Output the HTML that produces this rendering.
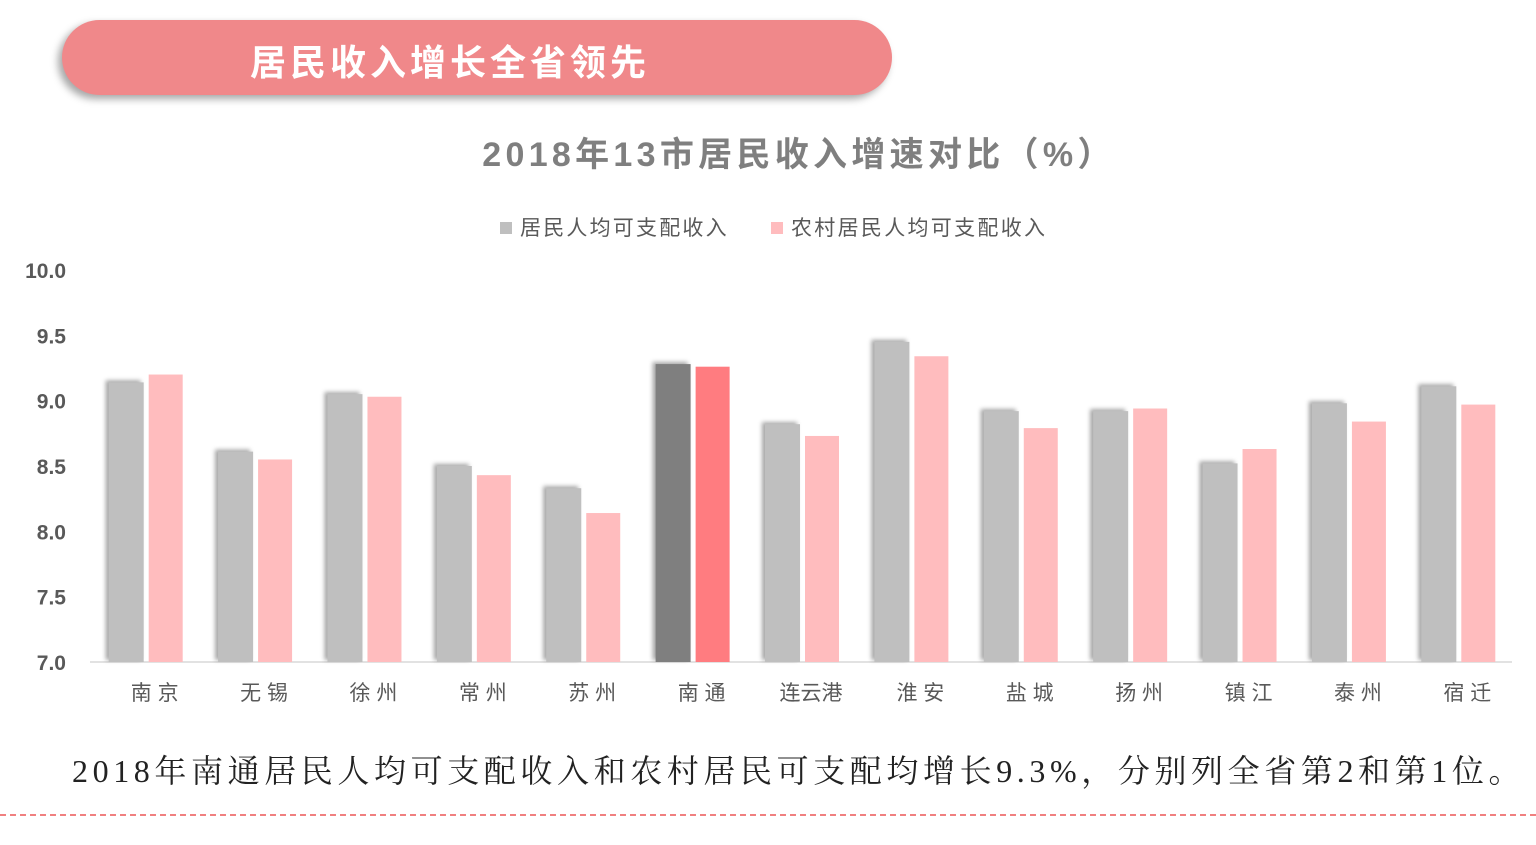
<!DOCTYPE html>
<html><head><meta charset="utf-8"><style>
body{margin:0;width:1536px;height:845px;background:#fff;overflow:hidden;position:relative;font-family:"Liberation Sans","Noto Sans CJK SC",sans-serif}
#pill{position:absolute;left:62px;top:20px;width:830px;height:75px;border-radius:38px;background:#f0888a;box-shadow:-4px 4px 8px rgba(0,0,0,.35)}
#pill span{position:absolute;left:188px;top:14px;color:#fff;font-size:36px;font-weight:bold;letter-spacing:4px}
#bottom{position:absolute;left:72px;top:746px;font-family:"Liberation Serif","Noto Serif CJK SC",serif;font-size:32px;color:#222;white-space:nowrap;letter-spacing:4.6px}
#dash{position:absolute;left:0;top:814px;width:1536px;border-top:2px dashed #f08080}
</style></head><body>
<div id="pill"><span>居民收入增长全省领先</span></div>
<svg id="chart" width="1536" height="740" style="position:absolute;left:0;top:0">
<text x="799" y="166" text-anchor="middle" font-size="34" font-weight="bold" fill="#7f7f7f" letter-spacing="4.3">2018年13市居民收入增速对比（%）</text>
<g id="legend"></g><g id="axis"></g><g id="bars"></g>
</svg>
<div id="bottom">2018年南通居民人均可支配收入和农村居民可支配均增长9.3%，分别列全省第2和第1位。</div>
<div id="dash"></div>
<script>
const categories=["南 京","无 锡","徐 州","常 州","苏 州","南 通","连云港","淮 安","盐 城","扬 州","镇 江","泰 州","宿 迁"];
const residentIncome=[9.14,8.61,9.05,8.5,8.33,9.28,8.82,9.45,8.92,8.92,8.52,8.98,9.11];
const ruralIncome=[9.2,8.55,9.03,8.43,8.14,9.26,8.73,9.34,8.79,8.94,8.63,8.84,8.97];
const yTicks=["7.0","7.5","8.0","8.5","9.0","9.5","10.0"];
const NS="http://www.w3.org/2000/svg";
const x0=90,x1=1512,yMin=7,yMax=10,py0=662,py1=270;
const bw=(x1-x0)/categories.length;
const y=v=>py0-(v-yMin)/(yMax-yMin)*(py0-py1);
const cx=i=>x0+bw*(i+0.5);
function mk(t,a,p){const e=document.createElementNS(NS,t);for(const k in a)e.setAttribute(k,a[k]);p.appendChild(e);return e;}
const ax=document.getElementById('axis');
yTicks.forEach(t=>{const e=mk('text',{x:66,y:y(+t)+8,'text-anchor':'end','font-size':21,'font-weight':'bold',fill:'#595959'},ax);e.textContent=t;

});
const base=mk('line',{x1:x0,x2:x1,y1:py0,y2:py0,stroke:'#d9d9d9','stroke-width':1.5},ax);


const bg=document.getElementById('bars');
categories.forEach((c,i)=>{
 const hl=i===5;
 const g=mk('rect',{x:cx(i)-36,y:y(residentIncome[i]),width:35,height:py0-y(residentIncome[i]),fill:hl?'#7f7f7f':'#bfbfbf',style:'filter:drop-shadow(-3px -2px 2px rgba(0,0,0,.35))'},bg);
 
 
 const p=mk('rect',{x:cx(i)+4,y:y(ruralIncome[i]),width:34,height:py0-y(ruralIncome[i]),fill:hl?'#ff7c80':'#ffbcbe'},bg);
 
 
 const l=mk('text',{x:cx(i)+10,y:700,'text-anchor':'middle','font-size':21,fill:'#595959'},bg);l.textContent=c;
 
 
});
const lg=document.getElementById('legend');
const r1=mk('rect',{x:500,y:222,width:12,height:12,fill:'#bfbfbf'},lg);


const t1=mk('text',{x:520,y:235,'font-size':21,fill:'#595959','letter-spacing':2.2},lg);t1.textContent='居民人均可支配收入';


const r2=mk('rect',{x:771,y:222,width:12,height:12,fill:'#ffbcbe'},lg);


const t2=mk('text',{x:791,y:235,'font-size':21,fill:'#595959','letter-spacing':2.3},lg);t2.textContent='农村居民人均可支配收入';


</script>
</body></html>
